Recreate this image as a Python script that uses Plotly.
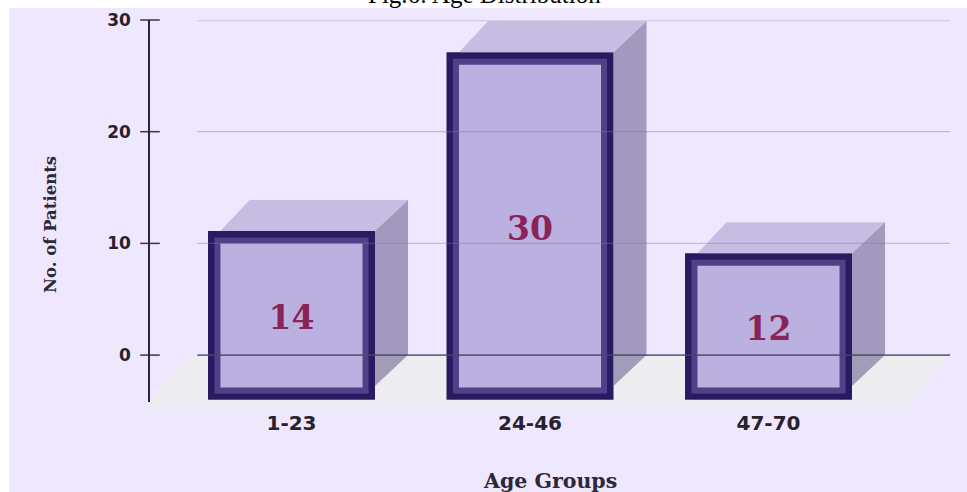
import plotly.graph_objects as go

# Patient counts per age group
age_groups = ["1-23", "24-46", "47-70"]
patients = [14, 30, 12]
y_ticks = [0, 10, 20, 30]

positions = list(range(len(age_groups)))

# Pixel geometry of the plot area
PX_LEFT, PX_RIGHT, PX_TOP, PX_BOTTOM = 150, 950, 20, 402
PAGE_W, PAGE_H = 967, 492
X_MIN, X_MAX = -0.5933, 2.761
Y_MIN, Y_MAX = -4.2, 30
X_UNIT = (PX_RIGHT - PX_LEFT) / (X_MAX - X_MIN)
Y_UNIT = (PX_BOTTOM - PX_TOP) / (Y_MAX - Y_MIN)

# Box proportions, in axis units
BASE = -3.45
BAR_WIDTH = 154.5 / X_UNIT
BORDER = 12.5
EDGE_X = (BAR_WIDTH + BORDER / X_UNIT) / 2
EDGE_Y = BORDER / 2 / Y_UNIT
DEPTH_X = 33 / X_UNIT
DEPTH_Y = 31 / Y_UNIT

BG = "#efe7fd"
fig = go.Figure()


def add_polygon(xs, ys, color):
    fig.add_trace(go.Scatter(x=xs, y=ys, mode="lines", fill="toself", fillcolor=color,
                             line=dict(width=0), hoverinfo="skip", showlegend=False))


# Outer frame of each box
fig.add_trace(go.Bar(
    x=positions, y=patients, base=BASE, width=BAR_WIDTH,
    marker=dict(color="#2a1a62", line=dict(color="#2a1a62", width=BORDER)),
    hoverinfo="skip", showlegend=False,
))
# Lighter inner bevel and the face itself
inset = 3.2
fig.add_trace(go.Bar(
    x=positions, y=[v - 2 * inset / Y_UNIT for v in patients], base=BASE + inset / Y_UNIT,
    width=BAR_WIDTH - 2 * inset / X_UNIT,
    marker=dict(color="#bbb1e0", line=dict(color="#4f4088", width=6)),
    hoverinfo="skip", showlegend=False,
))

# Side and top faces of each box
for c, v in zip(positions, patients):
    top = BASE + v + EDGE_Y
    right = c + EDGE_X
    inner_left = c - EDGE_X + BORDER / X_UNIT
    add_polygon([right, right + DEPTH_X, right + DEPTH_X, right, right],
                [top, top + DEPTH_Y, 0, -DEPTH_Y, top], "rgba(102,95,140,0.56)")
    add_polygon([inner_left, inner_left + DEPTH_X * 0.88, right + DEPTH_X, right, inner_left],
                [top, top + DEPTH_Y, top + DEPTH_Y, top, top], "rgba(172,163,211,0.62)")

# Horizontal guides run over the boxes
grid_start = -0.395
grid_styles = {0: ("rgba(75,68,100,0.8)", 1.6), 10: ("rgba(130,115,170,0.38)", 1.3),
               20: ("rgba(130,115,170,0.42)", 1.3), 30: ("rgba(140,120,175,0.25)", 2.5)}
for t in y_ticks:
    color, lw = grid_styles[t]
    fig.add_trace(go.Scatter(x=[grid_start, X_MAX], y=[t, t], mode="lines", cliponaxis=False,
                             line=dict(color=color, width=lw), hoverinfo="skip", showlegend=False))

# Tick marks crossing the axis line
fig.add_trace(go.Scatter(x=[X_MIN] * len(y_ticks), y=y_ticks, mode="markers", cliponaxis=False,
                         marker=dict(symbol="line-ew", size=14, line=dict(color="#3a3350", width=1.5)),
                         hoverinfo="skip", showlegend=False))

# Count printed on each box
fig.add_trace(go.Scatter(
    x=positions, y=[BASE + v / 2 - 0.5 for v in patients], mode="text",
    text=[str(v) for v in patients],
    textfont=dict(family="DejaVu Serif", size=33, color="#8a2457", weight="bold"),
    hoverinfo="skip", showlegend=False,
))


def paper_x(px):
    return (px - PX_LEFT) / (PX_RIGHT - PX_LEFT)


def paper_y(px):
    return (PX_BOTTOM - px) / (PX_BOTTOM - PX_TOP)


def floor_layer(grow, color):
    # Floor parallelogram, widened a little for each softer layer
    return dict(type="path", xref="paper", yref="paper", layer="below",
                path=f"M {paper_x(197 - grow)} {paper_y(355)} L {paper_x(945 + grow)} {paper_y(355)} "
                     f"L {paper_x(897 + grow)} {paper_y(402 + grow)} L {paper_x(150 - grow)} {paper_y(402 + grow)} Z",
                fillcolor=color, line_width=0)


# Page panel and floor
shapes = [
    dict(type="rect", xref="paper", yref="paper", layer="below",
         x0=paper_x(9), x1=paper_x(PAGE_W), y0=paper_y(PAGE_H), y1=paper_y(8),
         fillcolor=BG, line_width=0),
    floor_layer(10, "rgba(236,238,240,0.3)"),
    floor_layer(5, "rgba(236,238,240,0.45)"),
    floor_layer(0, "rgba(236,238,238,0.8)"),
]

serif_bold = dict(family="DejaVu Serif", color="#2c2838", weight="bold")
annotations = [
    dict(text="Fig.6: Age Distribution", xref="paper", yref="paper", x=paper_x(484), y=paper_y(-5.5),
         xanchor="center", yanchor="middle", showarrow=False,
         font=dict(family="Liberation Serif", size=25, color="#000")),
    dict(text="No. of Patients", xref="paper", yref="paper", x=paper_x(50), y=paper_y(225),
         xanchor="center", yanchor="middle", textangle=-90, showarrow=False, font=dict(size=16.5, **serif_bold)),
    dict(text="Age Groups", xref="paper", yref="paper", x=paper_x(550), y=paper_y(481),
         xanchor="center", yanchor="middle", showarrow=False, font=dict(size=20.5, **serif_bold)),
]

fig.update_layout(
    width=PAGE_W, height=PAGE_H,
    margin=dict(l=PX_LEFT, r=PAGE_W - PX_RIGHT, t=PX_TOP, b=PAGE_H - PX_BOTTOM, pad=0, autoexpand=False),
    paper_bgcolor="white", plot_bgcolor="rgba(0,0,0,0)",
    barmode="overlay", showlegend=False, shapes=shapes, annotations=annotations,
    xaxis=dict(range=[X_MIN, X_MAX], tickmode="array", tickvals=positions, ticktext=age_groups,
               showgrid=False, zeroline=False, showline=False, ticks="",
               tickfont=dict(family="DejaVu Sans", size=20, color="#26222e", weight="bold"),
               ticklabelstandoff=7),
    yaxis=dict(range=[Y_MIN, Y_MAX], tickmode="array", tickvals=y_ticks, showgrid=False, zeroline=False,
               showline=True, linecolor="#2a2440", linewidth=1.5, ticks="",
               tickfont=dict(family="DejaVu Sans", size=17, color="#26222e", weight="bold"),
               ticklabelstandoff=14),
)

fig.write_html("out.html", config=dict(displayModeBar=False))
